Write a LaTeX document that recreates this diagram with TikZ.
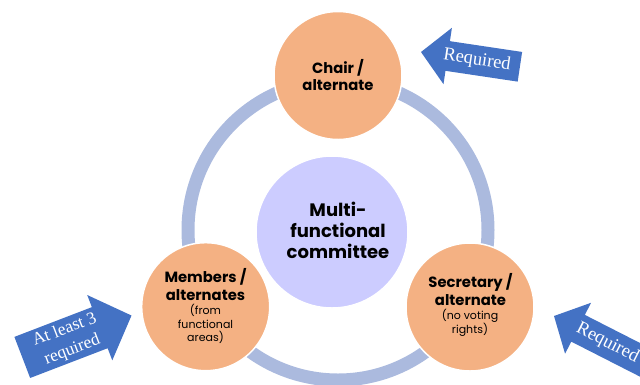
\documentclass[tikz,border=0pt]{standalone}
\usepackage{fontspec}
\setmainfont{Liberation Serif}
\newfontfamily\gothic{Poppins}
\definecolor{rolec}{HTML}{F4B183}
\definecolor{hubc}{HTML}{CCCCFF}
\definecolor{ringc}{RGB}{171,186,222}
\definecolor{arrowc}{HTML}{4472C4}
\begin{document}
\begin{tikzpicture}[x=1pt,y=-1pt,
  ringnode/.style={circle, draw=ringc, line width=13pt, minimum size=300pt, inner sep=0pt},
  hub/.style={circle, fill=hubc, draw=white, line width=1.5pt, minimum size=152pt, inner sep=0pt},
  role/.style={circle, fill=rolec, draw=white, line width=1.5pt, minimum size=128pt, inner sep=0pt},
  hd/.style={font=\gothic\bfseries\fontsize{14.8}{17}\selectfont, anchor=base, inner sep=0pt},
  sub/.style={font=\gothic\fontsize{11}{13}\selectfont, anchor=base, inner sep=0pt},
  big/.style={font=\gothic\bfseries\fontsize{18}{21}\selectfont, anchor=base, inner sep=0pt},
  arrtxt/.style={font=\fontsize{18.5}{22}\selectfont, text=white, inner sep=0pt, align=center},
]
\useasboundingbox (0,0) rectangle (640,384);
\clip (0,0) rectangle (640,384);

% ring
\node[ringnode] (ring) at (338,230) {};
% hub
\node[hub] (hub) at (332,232) {};
\node[big] (h1) at (338,216.5) {Multi-};
\node[big] (h2) at (338,237.5) {functional};
\node[big] (h3) at (338,258.5) {committee};

% chair
\node[role] (chair) at (338,75.5) {};
\node[hd] (c1) at (338,73) {Chair /};
\node[hd] (c2) at (338,90) {alternate};

% members
\node[role] (members) at (205.7,306.7) {};
\node[hd] (m1) at (205.5,282) {Members /};
\node[hd] (m2) at (205.5,300) {alternates};
\node[sub] (m3) at (205.5,314.5) {(from};
\node[sub] (m4) at (205.5,328) {functional};
\node[sub] (m5) at (205.5,341) {areas)};

% secretary
\node[role] (secretary) at (470,307) {};
\node[hd] (s1) at (470.5,287) {Secretary /};
\node[hd] (s2) at (470.5,305) {alternate};
\node[sub] (s3) at (470,319.5) {(no voting};
\node[sub] (s4) at (470,333.5) {rights)};

% arrow 1 (top right)
\begin{scope}[shift={(421,52)}, rotate=-8.5]
  \fill[arrowc] (0,0) -- (27,-28.5) -- (27,-15) -- (100,-15) -- (100,15) -- (27,15) -- (27,28.5) -- cycle;
\end{scope}
\node[arrtxt, rotate=-8.5] (a1) at (477,60.5) {Required};

% arrow 2 (bottom left)
\begin{scope}[shift={(131.5,315.5)}, rotate=201]
  \fill[arrowc] (0,0) -- (34,-35) -- (34,-22) -- (117,-22) -- (117,22) -- (34,22) -- (34,35) -- cycle;
\end{scope}
\node[arrtxt, rotate=21, font=\fontsize{17.5}{21.5}\selectfont] (a2) at (68.5,340) {At least 3\\required};

% arrow 3 (bottom right)
\begin{scope}[shift={(554,316)}, rotate=-27]
  \fill[arrowc] (0,0) -- (27,-28.6) -- (27,-15) -- (110,-15) -- (110,15) -- (27,15) -- (27,28.6) -- cycle;
\end{scope}
\node[arrtxt, rotate=-27] (a3) at (607.5,343) {Required};
\end{tikzpicture}
\end{document}
